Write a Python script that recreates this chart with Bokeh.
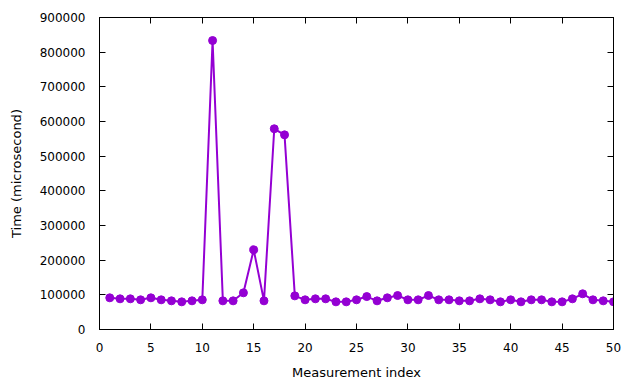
from bokeh.plotting import figure
from bokeh.models import LinearAxis, Range1d, FixedTicker, CustomLabelingPolicy
from bokeh.embed import file_html
from bokeh.resources import INLINE

index = list(range(1, 51))
time_us = [
    91400, 88500, 88500, 85600, 91400, 85600, 82700, 79800, 82700, 85600,
    833600, 82700, 82700, 105800, 230000, 82700, 579000, 561500, 97000, 85600,
    88500, 88500, 79800, 79800, 85600, 95000, 82700, 91400, 98000, 85600,
    85600, 98000, 85600, 85600, 82700, 82700, 88500, 85600, 79800, 85600,
    79800, 85600, 85600, 79800, 79800, 88500, 103000, 85600, 82700, 79800,
]
x_ticks = [0, 5, 10, 15, 20, 25, 30, 35, 40, 45, 50]
y_ticks = [0, 100000, 200000, 300000, 400000, 500000, 600000, 700000, 800000, 900000]

FONT = "DejaVu Sans"
COLOR = "#9400d3"

p = figure(
    frame_width=514, frame_height=312,
    min_border_left=99, min_border_right=27, min_border_top=17, min_border_bottom=55,
    x_range=Range1d(0, 50), y_range=Range1d(0, 900000),
    output_backend="svg", toolbar_location=None,
)
p.outline_line_color = "black"
p.outline_line_width = 1
p.xgrid.visible = False
p.ygrid.visible = False
p.background_fill_color = "white"
p.border_fill_color = "white"

p.line(index, time_us, line_color=COLOR, line_width=2)
p.scatter(index, time_us, size=8, fill_color=COLOR, line_color=COLOR)

def style(ax, ticks):
    ax.ticker = FixedTicker(ticks=ticks)
    ax.major_tick_in = 6
    ax.major_tick_out = 0
    ax.minor_tick_in = 0
    ax.minor_tick_out = 0
    ax.axis_line_color = "black"
    ax.major_tick_line_color = "black"
    ax.major_label_text_font = FONT
    ax.major_label_text_font_size = "12px"
    ax.major_label_text_color = "black"
    ax.axis_label_text_font = FONT
    ax.axis_label_text_font_size = "13px"
    ax.axis_label_text_font_style = "normal"
    ax.axis_label_text_color = "black"

xa = p.xaxis[0]
ya = p.yaxis[0]
style(xa, x_ticks)
style(ya, y_ticks)
xa.axis_label = "Measurement index"
ya.axis_label = "Time (microsecond)"
xa.major_label_standoff = 13
ya.major_label_standoff = 14
xa.axis_label_standoff = 10
ya.axis_label_standoff = 13
ya.formatter.use_scientific = False

no_labels = CustomLabelingPolicy(code="""
const ids = Array.from(indices);
for (const i of ids) indices.unset(i);
return indices;
""")

top = LinearAxis()
style(top, x_ticks)
top.major_label_policy = no_labels
top.major_label_standoff = 0
top.axis_label_standoff = 0
p.add_layout(top, "above")
right = LinearAxis()
style(right, y_ticks)
right.major_label_policy = CustomLabelingPolicy(code=no_labels.code)
right.major_label_standoff = 0
right.axis_label_standoff = 0
p.add_layout(right, "right")

open("out.html", "w").write(file_html(p, INLINE))
